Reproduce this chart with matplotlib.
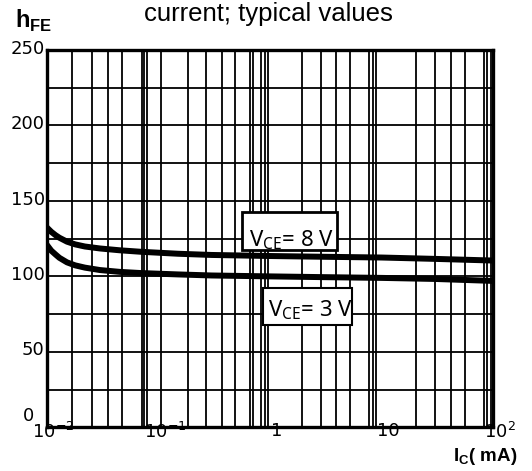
import matplotlib
matplotlib.use("Agg")
import matplotlib.pyplot as plt
from matplotlib.patches import Rectangle

plt.rcParams["mathtext.fontset"] = "custom"
plt.rcParams["mathtext.rm"] = "Noto Sans"
plt.rcParams["mathtext.bf"] = "Liberation Sans:bold"

# collector current (mA) and typical DC current gain
ic_ma = [0.01, 0.011, 0.012, 0.013, 0.0152, 0.018, 0.022, 0.03, 0.045, 0.07,
         0.15, 0.3, 1, 3, 10, 30, 100]
hfe_vce8 = [132.5, 129.5, 127.3, 125.6, 123, 121.2, 119.8, 118.5, 117.3, 116.3,
            115, 114.2, 113.5, 113, 112.5, 111.6, 110.5]
hfe_vce3 = [121, 117, 114.5, 112.3, 109.3, 107.3, 105.8, 104.2, 103, 102.2,
            101.3, 100.6, 100, 99.5, 99, 98.3, 97]

# grid of the printed chart paper
x_grid_ma = [0.01687, 0.0255, 0.0354, 0.0473, 0.0714, 0.0745, 0.0792, 0.1057,
             0.1846, 0.2675, 0.372, 0.487, 0.664, 0.706, 0.832, 0.904, 0.962,
             1.94, 2.87, 3.91, 5.22, 7.73, 8.39, 8.93,
             20.4, 30.1, 42.0, 56.0, 82.8, 88.1, 95.7]
y_grid = [25, 50, 75, 100, 125, 150, 175, 200, 225]

x_ticks = [0.01, 0.1, 1, 10, 100]
x_tick_labels = [r"$\mathdefault{10^{-2}}$", r"$\mathdefault{10^{-1}}$", "1", "10",
                 r"$\mathdefault{10^{2}}$"]
y_ticks = [0, 50, 100, 150, 200, 250]
y_tick_labels = ["0", "50", "100", "150", "200", "250"]

fig = plt.figure(figsize=(5.32, 4.71), dpi=100)
ax = fig.add_axes([0.0878, 0.0928, 0.9267 - 0.0878, 0.8938 - 0.0928])
ax.set_xscale("log")
ax.set_xlim(0.01, 100)
ax.set_ylim(0, 250)

for xv in x_grid_ma:
    ax.axvline(xv, color="black", lw=1.3, zorder=1)
for yv in y_grid:
    ax.axhline(yv, color="black", lw=1.3, zorder=1)

ax.plot(ic_ma, hfe_vce8, color="black", lw=4.3, solid_capstyle="butt",
        solid_joinstyle="round", zorder=3)
ax.plot(ic_ma, hfe_vce3, color="black", lw=4.3, solid_capstyle="butt",
        solid_joinstyle="round", zorder=3)

# curve annotations
ax.add_patch(Rectangle((0.558, 117.5), 3.97 - 0.558, 142.9 - 117.5,
                       facecolor="white", edgecolor="black", lw=2.0, zorder=4))
ax.text(0.650, 120.1, r"V$_{\mathrm{CE}}$= 8 V", fontfamily="Noto Sans",
        fontsize=16, ha="left", va="baseline", zorder=5)
ax.add_patch(Rectangle((0.867, 67.8), 5.44 - 0.867, 92.3 - 67.8,
                       facecolor="white", edgecolor="black", lw=1.5, zorder=4))
ax.text(0.962, 73.3, r"V$_{\mathrm{CE}}$= 3 V", fontfamily="Noto Sans",
        fontsize=16, ha="left", va="baseline", zorder=5)

for s in ax.spines.values():
    s.set_linewidth(2.4)
    s.set_zorder(6)

ax.set_xticks(x_ticks)
ax.set_xticklabels([])
ax.minorticks_off()
ax.tick_params(axis="both", length=0)
ax.set_yticks(y_ticks)
ax.set_yticklabels([])

for xv, lab in zip(x_ticks, x_tick_labels):
    ax.annotate(lab, (xv, 0), xycoords="data", xytext=(5, 4.0),
                textcoords="offset points", ha="center", va="top",
                fontfamily="DejaVu Sans", fontsize=13, zorder=7,
                annotation_clip=False)
for yv, lab in zip(y_ticks, y_tick_labels):
    dx, dy = (-9, 8) if yv == 0 else (-1.5, 1)
    ax.annotate(lab, (0.01, yv), xycoords="data", xytext=(dx, dy),
                textcoords="offset points", ha="right", va="center",
                fontfamily="DejaVu Sans", fontsize=13)

fig.text(0.504, 0.996, "current; typical values", ha="center", va="top",
         fontfamily="Liberation Sans", fontsize=18.5)
fig.text(0.028, 0.940, r"h$_{\mathbf{FE}}$", ha="left", va="baseline",
         fontfamily="Liberation Sans", fontweight="bold", fontsize=17)
fig.text(0.851, 0.022, r"I$_{\mathbf{C}}$( mA)", ha="left", va="baseline",
         fontfamily="Liberation Sans", fontweight="bold", fontsize=13.5)

fig.savefig("out.png", dpi=100)
